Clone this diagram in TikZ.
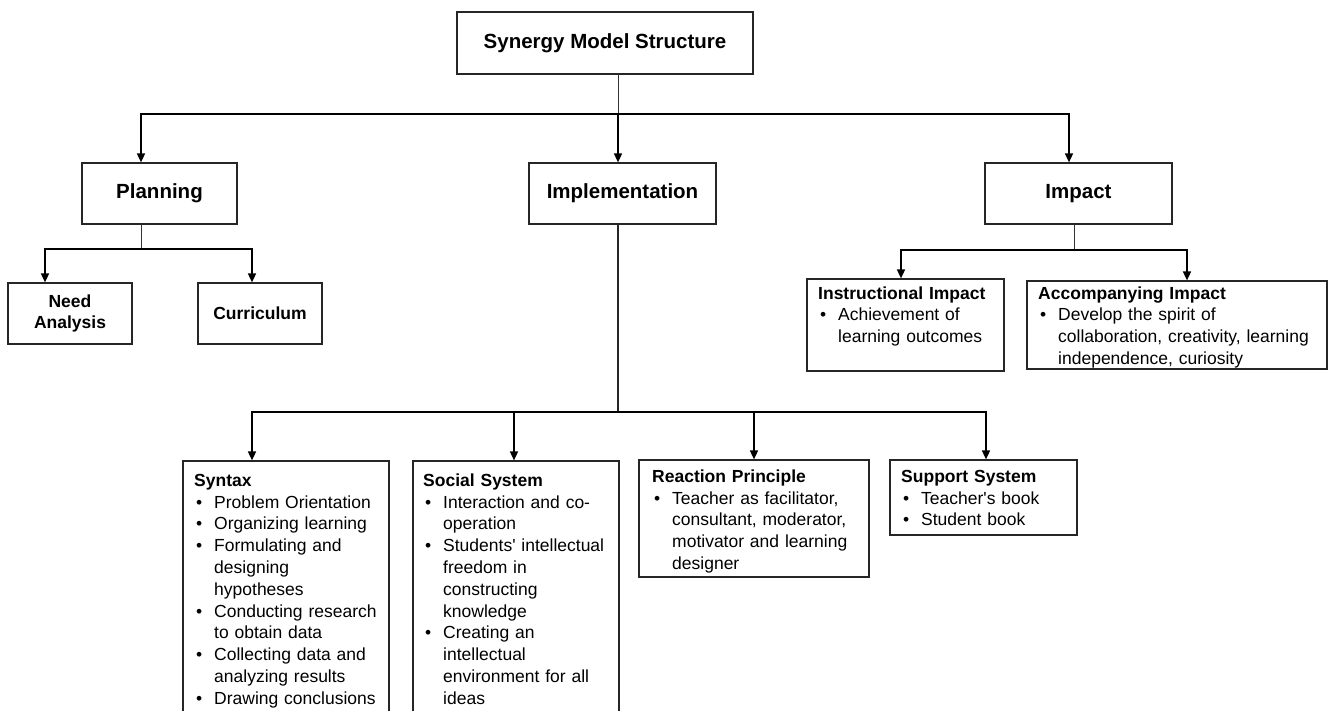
\documentclass[tikz,border=0pt]{standalone}
\usepackage{fontspec}
\setmainfont{Liberation Sans}
\usetikzlibrary{arrows.meta,calc}
\newcommand{\bu}{\hspace*{2pt}\makebox[18pt][l]{\textbullet}}
\newcommand{\ii}{\hspace*{20pt}}
\newcommand{\fl}{\rule{0pt}{13pt}}
\begin{document}
\begin{tikzpicture}[x=1pt,y=-1pt,
  box/.style={draw=black!85, line width=1.2pt, inner sep=0pt},
  bigt/.style={font=\fontsize{20.5}{24}\selectfont\bfseries},
  midt/.style={font=\fontsize{17.5}{21.8}\selectfont\bfseries, align=center},
  lst/.style={font=\fontsize{17.5}{21.8}\selectfont, inner sep=0pt, text width=280pt, align=left, anchor=north west},
  lnthin/.style={draw=black!80, line width=0.9pt},
  lnmid/.style={draw=black!85, line width=1.3pt},
  arr/.style={draw=black, line width=1.6pt, -{Triangle[width=8pt,length=9pt]}}
]
\useasboundingbox (0,0) rectangle (1328,711);

% top level
\node[box, bigt, minimum width=296, minimum height=62] (title) at (605,43) {Synergy Model Structure};
\node[box, bigt, minimum width=155, minimum height=61] (plan) at (159.5,193.5) {Planning};
\node[box, bigt, minimum width=187, minimum height=61] (impl) at (622.5,193.5) {Implementation};
\node[box, bigt, minimum width=187, minimum height=61] (imp) at (1078.5,193.5) {Impact};

% planning children
\node[box, midt, minimum width=124, minimum height=61] (need) at (70,313.5) {Need\\Analysis};
\node[box, midt, minimum width=124, minimum height=61] (curr) at (260,313.5) {Curriculum};

% impact children
\node[box, minimum width=197, minimum height=92] (instr) at (905.5,325) {};
\node[box, minimum width=300, minimum height=88] (accom) at (1177,325) {};
\node[lst] (instrT) at (818,286) {\fl\textbf{Instructional Impact}\\
\bu Achievement of\\
\ii learning outcomes};
\node[lst] (accomT) at (1038,286) {\fl\textbf{Accompanying Impact}\\
\bu Develop the spirit of\\
\ii collaboration, creativity, learning\\
\ii independence, curiosity};

% implementation children
\node[box, minimum width=206, minimum height=339] (syn) at (286,630.5) {};
\node[box, minimum width=206, minimum height=339] (soc) at (516,630.5) {};
\node[box, minimum width=230, minimum height=117] (reac) at (754,518.5) {};
\node[box, minimum width=187, minimum height=75] (supp) at (983.5,497.5) {};

\node[lst] (synT) at (194,473) {\fl\textbf{Syntax}\\
\bu Problem Orientation\\
\bu Organizing learning\\
\bu Formulating and\\
\ii designing\\
\ii hypotheses\\
\bu Conducting research\\
\ii to obtain data\\
\bu Collecting data and\\
\ii analyzing results\\
\bu Drawing conclusions};
\node[lst] (socT) at (423,473) {\fl\textbf{Social System}\\
\bu Interaction and co-\\
\ii operation\\
\bu Students\textquotesingle\ intellectual\\
\ii freedom in\\
\ii constructing\\
\ii knowledge\\
\bu Creating an\\
\ii intellectual\\
\ii environment for all\\
\ii ideas};
\node[lst] (reacT) at (652,469) {\fl\textbf{Reaction Principle}\\
\bu Teacher as facilitator,\\
\ii consultant, moderator,\\
\ii motivator and learning\\
\ii designer};
\node[lst] (suppT) at (901,469) {\fl\textbf{Support System}\\
\bu Teacher\textquotesingle s book\\
\bu Student book};

% connectors: top
\coordinate (t0) at (618,114);
\coordinate (ta) at (141,114);
\coordinate (tc) at (1069,114);
\draw[lnthin] (title.south -| t0) -- (t0);
\draw[arr] (t0) -- (ta) -- (ta |- plan.north);
\draw[arr] (t0) -- (tc) -- (tc |- imp.north);
\draw[arr] (t0) -- (t0 |- impl.north);

% planning
\coordinate (p0) at (141,249);
\coordinate (pa) at (45,249);
\coordinate (pb) at (252,249);
\draw[lnthin] (plan.south -| p0) -- (p0);
\draw[arr] (p0) -- (pa) -- (pa |- need.north);
\draw[arr] (p0) -- (pb) -- (pb |- curr.north);

% impact
\coordinate (m0) at (1074,250);
\coordinate (ma) at (901,250);
\coordinate (mb) at (1187,250);
\draw[lnthin] (imp.south -| m0) -- (m0);
\draw[arr] (m0) -- (ma) -- (ma |- instr.north);
\draw[arr] (m0) -- (mb) -- (mb |- accom.north);

% implementation
\coordinate (i0) at (618,412);
\coordinate (ia) at (252,412);
\coordinate (ib) at (514,412);
\coordinate (ic) at (754,412);
\coordinate (id) at (986,412);
\draw[lnmid] (impl.south -| i0) -- (i0);
\draw[arr] (i0) -- (ia) -- (ia |- syn.north);
\draw[arr] (i0) -- (ib) -- (ib |- soc.north);
\draw[arr] (i0) -- (ic) -- (ic |- reac.north);
\draw[arr] (i0) -- (id) -- (id |- supp.north);
\end{tikzpicture}
\end{document}
